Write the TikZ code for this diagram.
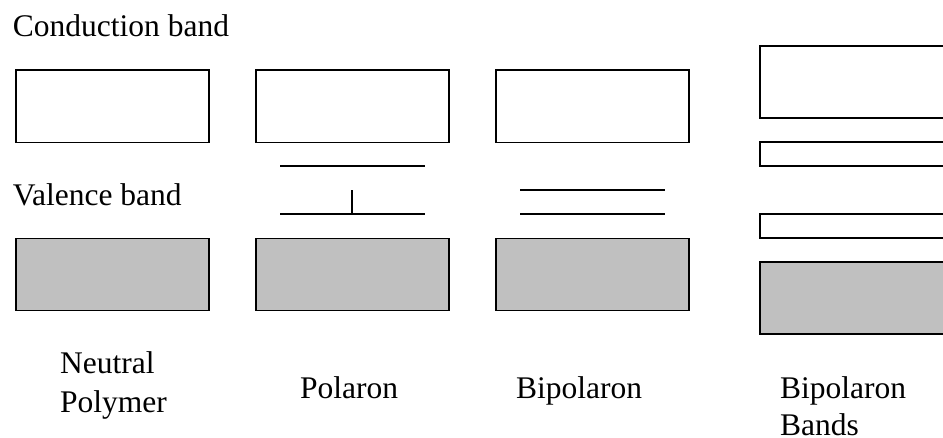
\documentclass[tikz,border=0pt]{standalone}
\usepackage{fontspec}
\setmainfont{Liberation Serif}
\definecolor{bandgray}{HTML}{C0C0C0}
\begin{document}
\begin{tikzpicture}[x=1pt, y=-1pt,
  band/.style={draw=black, line width=1.6pt, fill=white},
  filled/.style={band, fill=bandgray},
  level/.style={draw=black, line width=1.6pt},
  lbl/.style={anchor=base west, inner sep=0pt, font=\fontsize{31.5}{39}\selectfont}]
\useasboundingbox (0,0) rectangle (943,437);
\clip (0,0) rectangle (943,437);

% row labels
\node[lbl] (cb) at (12.7,36.7) {Conduction band};
\node[lbl] (vb) at (12.7,205.7) {Valence band};

% neutral polymer
\draw[band]   (16,70)    rectangle (209,142.5);
\draw[filled] (16,238.5) rectangle (209,310.5);

% polaron: two gap levels, the lower one singly occupied
\draw[band]   (256,70)    rectangle (449,142.5);
\draw[filled] (256,238.5) rectangle (449,310.5);
\draw[level] (280,166) -- (425,166);
\draw[level] (280,214) -- (425,214);
\draw[level] (352,190) -- (352,214);

% bipolaron: two empty gap levels
\draw[band]   (496,70)    rectangle (689,142.5);
\draw[filled] (496,238.5) rectangle (689,310.5);
\draw[level] (520,190) -- (665,190);
\draw[level] (520,214) -- (665,214);

% bipolaron bands
\draw[band]   (760,46)  rectangle (980,118);
\draw[band]   (760,142) rectangle (980,166);
\draw[band]   (760,214) rectangle (980,238);
\draw[filled] (760,262) rectangle (980,334);

% column captions
\node[lbl] (n1) at (60,373) {Neutral};
\node[lbl] (n2) at (60,412) {Polymer};
\node[lbl] (p)  at (300,398) {Polaron};
\node[lbl] (b)  at (516,398) {Bipolaron};
\node[lbl] (bb1) at (780,398) {Bipolaron};
\node[lbl] (bb2) at (780,435.5) {Bands};
\end{tikzpicture}
\end{document}
